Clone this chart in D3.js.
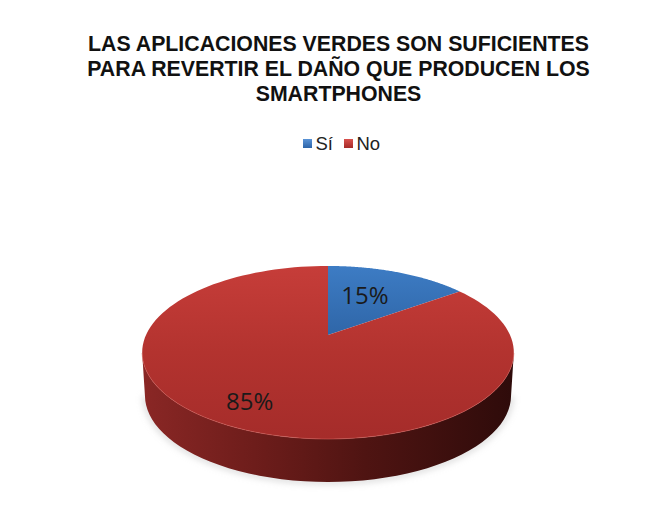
<!DOCTYPE html>
<html>
<head>
<meta charset="utf-8">
<script src="https://cdn.jsdelivr.net/npm/d3@7"></script>
<style>
html,body{margin:0;padding:0;background:#fff}
svg{display:block}
</style>
</head>
<body>
<svg id="chart" width="657" height="522"></svg>
<script>
// Chart content
const titleLines = ["LAS APLICACIONES VERDES SON SUFICIENTES", "PARA REVERTIR EL DAÑO QUE PRODUCEN LOS", "SMARTPHONES"];
const categories = ["Sí", "No"];
const values = [15, 85];
const valueLabels = ["15%", "85%"];

// Pie geometry: a disc seen in perspective, so its centre sits above the rim ellipse's centre
const cx = 328, cy = 335, A = 182, B = 83, k = 0.202, depth = 43;
const project = (angle, r = 1) => {
  const u = r * Math.sin(angle), v = -r * Math.cos(angle), w = 1 - k * v;
  return [cx + A * u / w, cy + B * v / w];
};
const svg = d3.select("#chart");
const defs = svg.append("defs");

function linear(id, x2, y2, stops) {
  const g = defs.append("linearGradient").attr("id", id)
    .attr("x1", 0).attr("y1", 0).attr("x2", x2).attr("y2", y2);
  stops.forEach(([o, c]) => g.append("stop").attr("offset", o).attr("stop-color", c));
}
linear("redTop", 0, 1, [[0, "#c63d39"], [0.5, "#b3332f"], [1, "#a52c2a"]]);
linear("blueTop", 0, 1, [[0, "#3d7cc4"], [1, "#2f66a8"]]);
linear("wall", 1, 0, [[0, "#8a2725"], [0.3, "#6e1d1b"], [0.6, "#4f1412"], [1, "#2e0b0a"]]);
linear("swatchBlue", 0, 1, [[0, "#5a93d6"], [1, "#2c64a8"]]);
linear("swatchRed", 0, 1, [[0, "#d9514d"], [1, "#a52a28"]]);
defs.append("filter").attr("id", "soft").attr("x", "-10%").attr("y", "-30%").attr("width", "120%").attr("height", "160%")
  .append("feGaussianBlur").attr("stdDeviation", 3);

// Slices come from d3.pie so each wedge follows its value
const arcs = d3.pie().value(d => d).sort(null)(values);
const angleSteps = (a0, a1) => d3.range(0, 121).map(i => a0 + (a1 - a0) * i / 120);
const line = d3.line();

// Rim silhouette used to extrude the side wall
const rim = angleSteps(0, 2 * Math.PI).map(a => project(a));
const leftI = d3.leastIndex(rim, (p, q) => p[0] - q[0]);
const rightI = d3.greatestIndex(rim, p => p[0]);
const frontRim = rim.slice(rightI, leftI + 1);
const lower = p => [cx + (p[0] - cx) * 0.985, p[1] + depth];

// Faint ground shadow
svg.append("path")
  .attr("d", line(frontRim.map(lower)) )
  .attr("fill", "none").attr("stroke", "#b9b9b9").attr("stroke-width", 5)
  .attr("stroke-opacity", 0.55).attr("filter", "url(#soft)");

// Side wall
svg.append("path")
  .attr("d", line([...frontRim, ...frontRim.slice().reverse().map(lower)]) + "Z")
  .attr("fill", "url(#wall)");

// Top faces
const fills = ["url(#blueTop)", "url(#redTop)"];
svg.append("g").selectAll("path").data(arcs).join("path")
  .attr("d", d => line([[cx, cy], ...angleSteps(d.startAngle, d.endAngle).map(a => project(a))]) + "Z")
  .attr("fill", (d, i) => fills[i]);

// Light bevel along the front edge of the top face
svg.append("path")
  .attr("d", line(frontRim))
  .attr("fill", "none").attr("stroke", "#cf5a55").attr("stroke-width", 1).attr("stroke-opacity", 0.6);

// Value labels placed along each slice's bisector
const labelRadius = [0.5, 0.81];
const labelNudge = [[-1, -7], [0, -5]];
svg.append("g").selectAll("text").data(arcs).join("text")
  .attr("x", (d, i) => project((d.startAngle + d.endAngle) / 2, labelRadius[i])[0] + labelNudge[i][0])
  .attr("y", (d, i) => project((d.startAngle + d.endAngle) / 2, labelRadius[i])[1] + labelNudge[i][1])
  .attr("text-anchor", "middle").attr("dominant-baseline", "central")
  .attr("font-family", "'Open Sans', sans-serif").attr("font-size", 24).attr("fill", "#1a1a1a")
  .text((d, i) => valueLabels[i]);

// Title
svg.append("g").selectAll("text").data(titleLines).join("text")
  .attr("x", 338.5).attr("y", (d, i) => 51 + i * 25)
  .attr("text-anchor", "middle")
  .attr("font-family", "'Liberation Sans', Arial, sans-serif")
  .attr("font-weight", "bold").attr("font-size", 21.3).attr("fill", "#111")
  .text(d => d);

// Legend
const legendX = d3.scalePoint().domain(categories).range([303, 344]);
const swatches = ["url(#swatchBlue)", "url(#swatchRed)"];
const legend = svg.append("g").selectAll("g").data(categories).join("g")
  .attr("transform", d => `translate(${legendX(d)},143)`);
legend.append("rect").attr("y", -4).attr("width", 9).attr("height", 9)
  .attr("fill", (d, i) => swatches[i]);
legend.append("text").attr("x", 12.5).attr("y", 6.5)
  .attr("font-family", "'Liberation Sans', Arial, sans-serif").attr("font-size", 18.5).attr("fill", "#222")
  .text(d => d);
</script>
</body>
</html>
